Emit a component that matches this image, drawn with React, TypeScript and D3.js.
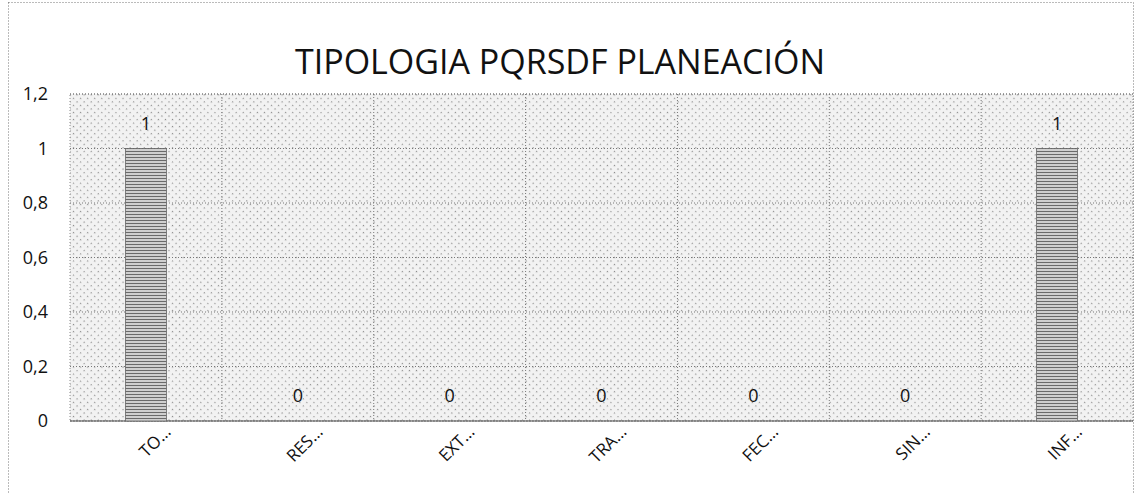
import React, { useEffect, useRef } from 'react';
import * as d3 from 'd3';

const categories = ['TO…', 'RES…', 'EXT…', 'TRA…', 'FEC…', 'SIN…', 'INF…'];
const values = [1, 0, 0, 0, 0, 0, 1];
const yTicks = [0, 0.2, 0.4, 0.6, 0.8, 1, 1.2];
const title = 'TIPOLOGIA PQRSDF PLANEACIÓN';

const W = 1138;
const H = 493;

const App = () => {
  const svgRef = useRef<SVGSVGElement | null>(null);

  useEffect(() => {
    const svg = d3.select(svgRef.current);
    svg.selectAll('*').remove();
    const font = "'Open Sans', 'DejaVu Sans', sans-serif";
    const margin = { top: 94, right: 5, bottom: 72, left: 70 };
    const width = W - margin.left - margin.right;
    const height = H - margin.top - margin.bottom;

    const defs = svg.append('defs');
    const bg = defs
      .append('pattern')
      .attr('id', 'bgdots')
      .attr('width', 5)
      .attr('height', 5)
      .attr('patternUnits', 'userSpaceOnUse')
      .attr('patternTransform', 'rotate(45)');
    bg.append('rect').attr('width', 5).attr('height', 5).attr('fill', '#f2f2f2');
    bg.append('rect').attr('width', 1.2).attr('height', 1.2).attr('fill', '#8a8a8a');
    const barPat = defs
      .append('pattern')
      .attr('id', 'bardots')
      .attr('width', 3)
      .attr('height', 3)
      .attr('patternUnits', 'userSpaceOnUse');
    barPat.append('rect').attr('width', 3).attr('height', 3).attr('fill', '#cfcfcf');
    barPat.append('rect').attr('width', 3).attr('height', 1).attr('fill', '#6a6a6a');

    // page frame
    svg
      .append('rect')
      .attr('x', 8.5)
      .attr('y', 2.5)
      .attr('width', 1125)
      .attr('height', 500)
      .attr('fill', 'white')
      .attr('stroke', '#777')
      .attr('stroke-dasharray', '1,2');

    svg
      .append('text')
      .attr('x', 560)
      .attr('y', 74)
      .attr('text-anchor', 'middle')
      .attr('font-family', font)
      .attr('font-size', 34)
      .attr('fill', '#111')
      .text(title);

    const x = d3.scaleBand().domain(categories).range([0, width]).paddingInner(0.73).paddingOuter(0.365);
    const step = width / categories.length;
    const y = d3.scaleLinear().domain([0, 1.2]).range([height, 0]);

    const g = svg.append('g').attr('transform', `translate(${margin.left},${margin.top})`);

    g.append('rect')
      .attr('width', width)
      .attr('height', height)
      .attr('fill', 'url(#bgdots)')
      .attr('stroke', '#888')
      .attr('stroke-dasharray', '1,2');

    g.selectAll('.hgrid')
      .data(yTicks)
      .enter()
      .append('line')
      .attr('x1', 0)
      .attr('x2', width)
      .attr('y1', (d) => y(d))
      .attr('y2', (d) => y(d))
      .attr('stroke', '#777')
      .attr('stroke-dasharray', '1,2');

    g.selectAll('.vgrid')
      .data(d3.range(1, categories.length))
      .enter()
      .append('line')
      .attr('x1', (i) => i * step)
      .attr('x2', (i) => i * step)
      .attr('y1', 0)
      .attr('y2', height)
      .attr('stroke', '#777')
      .attr('stroke-dasharray', '1,2');

    g.append('line')
      .attr('x1', 0)
      .attr('x2', width)
      .attr('y1', height)
      .attr('y2', height)
      .attr('stroke', '#555');

    g.selectAll('.bar')
      .data(values)
      .enter()
      .append('rect')
      .attr('x', (d, i) => x(categories[i]) as number)
      .attr('y', (d) => y(d))
      .attr('width', x.bandwidth())
      .attr('height', (d) => height - y(d))
      .attr('fill', 'url(#bardots)')
      .attr('stroke', '#666')
      .attr('stroke-width', 0.8);

    g.selectAll('.lbl')
      .data(values)
      .enter()
      .append('text')
      .attr('x', (d, i) => (x(categories[i]) as number) + x.bandwidth() / 2)
      .attr('y', (d) => y(d) - 19)
      .attr('text-anchor', 'middle')
      .attr('font-family', font)
      .attr('font-size', 18)
      .attr('fill', '#111')
      .text((d) => String(d));

    const yAxis = g
      .append('g')
      .call(
        d3
          .axisLeft(y)
          .tickValues(yTicks)
          .tickSize(0)
          .tickPadding(22)
          .tickFormat((d) => String(d).replace('.', ','))
      );
    yAxis.select('.domain').remove();
    yAxis.selectAll('text').attr('font-family', font).attr('font-size', 18).attr('fill', '#111');

    const xAxis = g
      .append('g')
      .attr('transform', `translate(0,${height})`)
      .call(d3.axisBottom(x).tickSize(0).tickPadding(0));
    xAxis.select('.domain').remove();
    xAxis
      .selectAll('text')
      .attr('font-family', font)
      .attr('font-size', 17)
      .attr('fill', '#111')
      .attr('text-anchor', 'end')
      .attr('dy', 0)
      .attr('transform', 'translate(26,12) rotate(-45)');
  }, []);

  return <svg ref={svgRef} width={W} height={H} style={{ position: 'absolute', left: 0, top: 0 }} />;
};

export default App;
